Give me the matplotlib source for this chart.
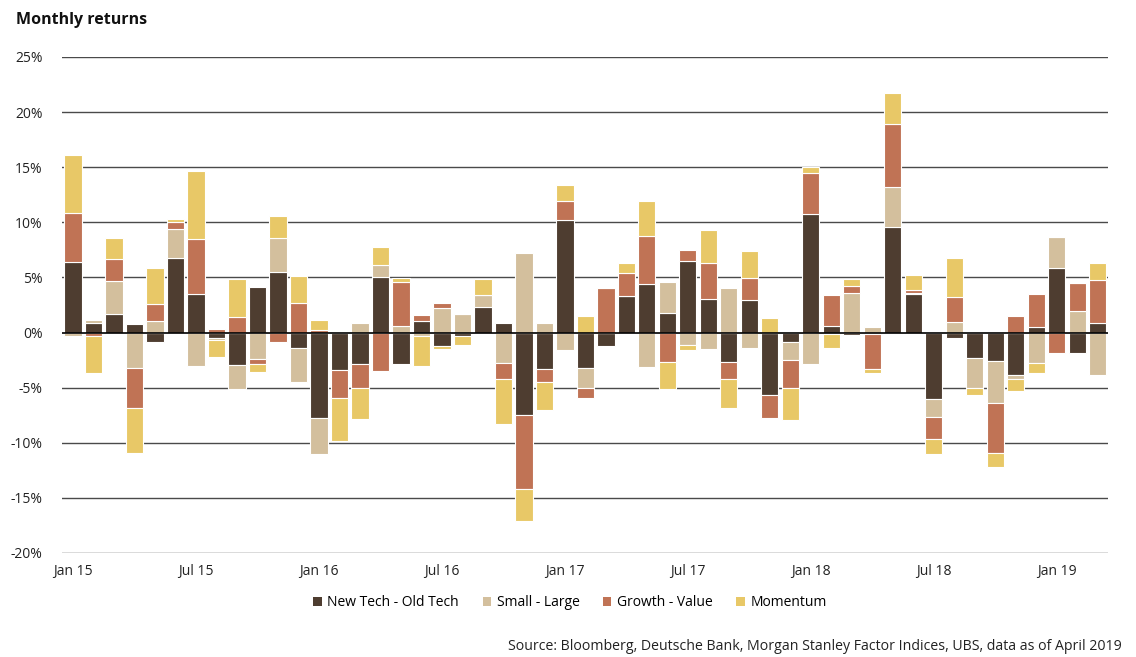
import numpy as np
import matplotlib
matplotlib.use("Agg")
import matplotlib.pyplot as plt
from matplotlib.patches import Patch

plt.rcParams['font.family'] = ['Open Sans', 'DejaVu Sans']

months = ["Jan 15","Feb 15","Mar 15","Apr 15","May 15","Jun 15","Jul 15","Aug 15","Sep 15","Oct 15","Nov 15","Dec 15",
          "Jan 16","Feb 16","Mar 16","Apr 16","May 16","Jun 16","Jul 16","Aug 16","Sep 16","Oct 16","Nov 16","Dec 16",
          "Jan 17","Feb 17","Mar 17","Apr 17","May 17","Jun 17","Jul 17","Aug 17","Sep 17","Oct 17","Nov 17","Dec 17",
          "Jan 18","Feb 18","Mar 18","Apr 18","May 18","Jun 18","Jul 18","Aug 18","Sep 18","Oct 18","Nov 18","Dec 18",
          "Jan 19","Feb 19","Mar 19"]

new_tech = [6.4, 0.85, 1.66, 0.82, -0.9, 6.74, 3.5, -0.45, -2.9, 4.17, 5.5, -1.39,
            -7.73, -3.38, -2.84, 5.0, -2.81, 1.03, -1.18, -0.27, 2.3, 0.91, -7.46, -3.29,
            10.18, -3.2, -1.24, 3.29, 4.38, 1.75, 6.47, 3.05, -2.66, 2.93, -5.65, -0.85,
            10.73, 0.57, -0.18, -0.1, 9.55, 3.47, -6.01, -0.45, -2.3, -2.57, -3.84, 0.48,
            5.86, -1.81, 0.88]
small_large = [-0.3, 0.25, 3.0, -3.2, 1.03, 2.63, -3.0, -0.2, -2.18, -2.39, 3.05, -3.14,
               -3.32, 0.09, 0.91, 1.09, 0.57, -0.27, 2.2, 1.72, 1.09, -2.75, 7.25, 0.91,
               -1.54, -1.81, 0.0, 0.0, -3.17, 2.81, -1.12, -1.45, 4.08, -1.36, 0.0, -1.63,
               -2.81, -0.1, 3.56, 0.54, 3.66, 0.15, -1.63, 0.94, -2.72, -3.81, -0.36, -2.75,
               2.84, 1.96, -3.81]
growth_value = [4.41, -0.35, 2.0, -3.69, 1.57, 0.66, 4.98, 0.3, 1.42, -0.42, -0.9, 2.69,
                0.21, -2.54, -2.18, -3.53, 3.99, 0.54, 0.51, 0.0, 0.0, -1.45, -6.77, -1.24,
                1.72, -0.97, 4.08, 2.08, 4.35, -2.66, 1.06, 3.23, -1.54, 1.99, -2.14, -2.54,
                3.72, 2.87, 0.63, -3.2, 5.68, 0.24, -1.99, 2.3, 0.09, -4.53, 1.54, 3.05,
                -1.9, 2.57, 3.9]
momentum = [5.3, -3.3, 1.93, -4.08, 3.29, 0.24, 6.19, -1.6, 3.41, -0.73, 1.99, 2.42,
            0.91, -3.96, -2.78, 1.69, 0.42, -2.72, -0.27, -0.9, 1.51, -4.14, -2.9, -2.54,
            1.51, 1.54, 0.0, 0.91, 3.23, -2.42, -0.42, 3.05, -2.69, 2.51, 1.36, -2.87,
            0.6, -1.3, 0.69, -0.33, 2.81, 1.33, -1.42, 3.56, -0.69, -1.33, -1.06, -0.88,
            0.0, 0.0, 1.57]

series_names = ["New Tech - Old Tech", "Small - Large", "Growth - Value", "Momentum"]
colors = ["#4E3D30", "#D3BF9D", "#C07355", "#E8C867"]

yticks = [25, 20, 15, 10, 5, 0, -5, -10, -15, -20]

fig = plt.figure(figsize=(11.36, 6.57), dpi=100)
ax = fig.add_axes([62/1136, 1-553/657, (1108-62)/1136, (553-57)/657])

x = np.arange(len(months))
pos_base = np.zeros(len(months))
neg_base = np.zeros(len(months))
for vals, col in zip([new_tech, small_large, growth_value, momentum], colors):
    v = np.array(vals, dtype=float)
    bottoms = np.where(v >= 0, pos_base, neg_base)
    ax.bar(x, v, bottom=bottoms, width=0.84, color=col, edgecolor="white",
           linewidth=0.8, zorder=3)
    pos_base = pos_base + np.where(v > 0, v, 0)
    neg_base = neg_base + np.where(v < 0, v, 0)

ax.set_ylim(-20, 25)
ax.set_xlim(-0.54, len(months) - 0.5)
ax.set_yticks(yticks)
ax.set_yticklabels([f"{t}%" for t in yticks])
for t in yticks:
    if t != 0:
        ax.axhline(t, color="#4a4a4a", linewidth=1.0, zorder=1)
ax.axhline(0, color="black", linewidth=1.2, zorder=5)

tick_idx = list(range(0, len(months), 6))
ax.set_xticks(tick_idx)
ax.set_xticklabels([months[i] for i in tick_idx])
ax.tick_params(axis="both", length=0, labelsize=10, colors="#222222")
ax.tick_params(axis="y", pad=14)
ax.tick_params(axis="x", pad=8)
for s in ax.spines.values():
    s.set_visible(False)

fig.text(16/1136, 1-20/657, "Monthly returns", fontsize=11.5, fontweight="bold",
         ha="left", va="center", color="#111111")

handles = [Patch(facecolor=c, edgecolor="none") for c in colors]
fig.legend(handles, series_names, loc="center", bbox_to_anchor=(570/1136, 1-603/657),
           ncol=4, frameon=False, fontsize=10, handlelength=0.6, handleheight=0.6,
           handletextpad=0.4, columnspacing=1.7)

fig.text(1122/1136, 1-646/657,
         "Source: Bloomberg, Deutsche Bank, Morgan Stanley Factor Indices, UBS, data as of April 2019",
         fontsize=10.2, ha="right", va="center", color="#222222")

fig.savefig("out.png", dpi=100)
